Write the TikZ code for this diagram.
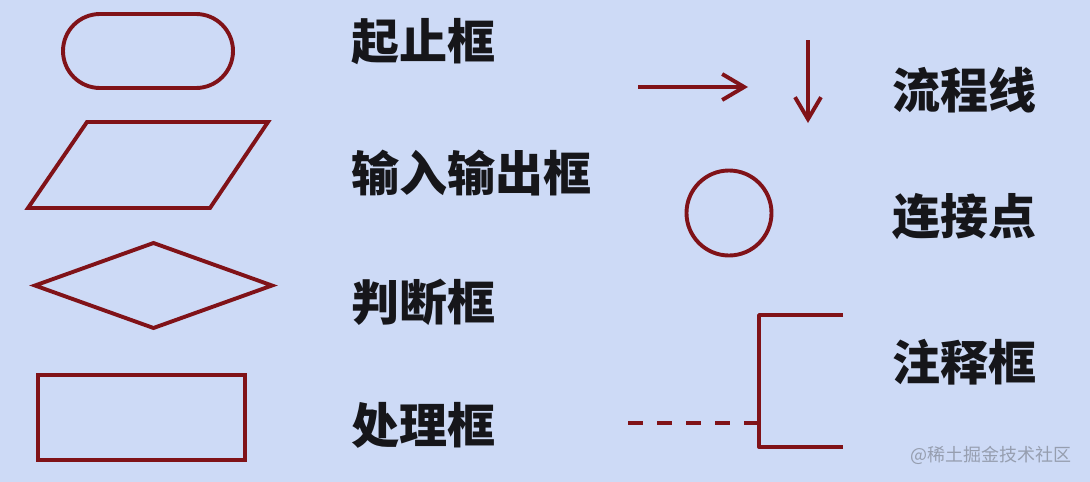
\documentclass[tikz,border=0pt]{standalone}
\usepackage{fontspec}
\newfontfamily\cjk{Noto Sans CJK SC}
\usetikzlibrary{arrows.meta,shapes.geometric,shapes.misc}
\definecolor{bg}{RGB}{205,218,246}
\definecolor{shapecol}{RGB}{128,18,24}
\definecolor{txt}{RGB}{22,22,26}
\definecolor{wm}{RGB}{150,158,175}
\tikzset{
  sym/.style={draw=shapecol, line width=3.9pt, inner sep=0pt, outer sep=0pt},
  lbl/.style={anchor=west, inner sep=0pt, text=txt, font=\cjk\bfseries\fontsize{48}{50}\selectfont},
  flow/.style={draw=shapecol, line width=3.9pt, -{Straight Barb[length=22pt,width=26pt,line width=3.9pt]}},
}
\begin{document}
\begin{tikzpicture}[x=1pt,y=-1pt]
\fill[bg] (0,0) rectangle (1090,482);
\useasboundingbox (0,0) rectangle (1090,482);
% left column shapes
\node[sym, rounded rectangle, minimum width=170pt, minimum height=74pt] (term) at (148,51) {};
\draw[sym, line join=miter] (87,122) -- (268,122) -- (210,208) -- (28,208) -- cycle;
\coordinate (io) at (148,165);
\node[sym, diamond, minimum width=237pt, minimum height=85pt] (dec) at (153.5,285.5) {};
\node[sym, rectangle, minimum width=207pt, minimum height=85pt] (proc) at (141.5,417.5) {};
% labels left
\node[lbl] (l1) at (351,42) {起止框};
\node[lbl] (l2) at (351,173) {输入输出框};
\node[lbl] (l3) at (351,302) {判断框};
\node[lbl] (l4) at (351,425) {处理框};
% flow lines
\coordinate (ha) at (638,87);
\coordinate (hb) at (748,87);
\coordinate (va) at (808,40);
\coordinate (vb) at (808,123);
\draw[flow] (ha) -- (hb);
\draw[flow] (va) -- (vb);
% connector
\node[sym, circle, minimum size=85pt] (conn) at (729,213) {};
% annotation
\coordinate (at) at (843,315);
\coordinate (atl) at (759,315);
\coordinate (abl) at (759,447);
\coordinate (ab) at (843,447);
\coordinate (am) at (759,423);
\coordinate (ad) at (628,423);
\draw[draw=shapecol, line width=3.9pt, line join=round] (at) -- (atl) -- (abl) -- (ab);
\draw[draw=shapecol, line width=3.9pt, dash pattern=on 15pt off 14pt] (ad) -- (am);
% labels right
\node[lbl] (r1) at (892,90) {流程线};
\node[lbl] (r2) at (892,217) {连接点};
\node[lbl] (r3) at (892,362) {注释框};
% watermark
\node[anchor=west, inner sep=0pt, text=wm, font=\cjk\fontsize{18}{20}\selectfont] (wmk) at (910,455) {@稀土掘金技术社区};
\end{tikzpicture}
\end{document}
